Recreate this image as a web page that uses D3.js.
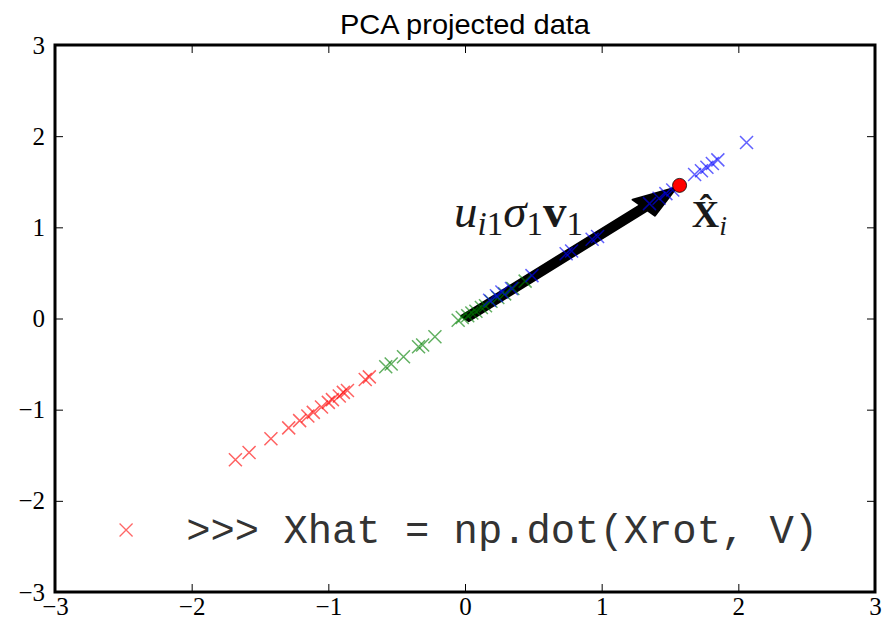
<!DOCTYPE html>
<html>
<head>
<meta charset="utf-8">
<script src="https://cdn.jsdelivr.net/npm/d3@7"></script>
<style>
  body { margin: 0; background: #fff; }
</style>
</head>
<body>
<div id="chart"></div>
<script>
// projected points, one list per colour group
const redX = [-1.68, -1.58, -1.42, -1.29, -1.21, -1.15, -1.11, -1.05, -1.00, -0.97, -0.92, -0.89, -0.86, -0.73, -0.70];
const redY = [-1.55, -1.47, -1.32, -1.20, -1.12, -1.07, -1.03, -0.97, -0.92, -0.89, -0.85, -0.81, -0.79, -0.67, -0.64];

const greenX = [-0.58, -0.54, -0.45, -0.34, -0.31, -0.22, -0.05, -0.02, 0.02, 0.05, 0.08, 0.12, 0.15, 0.19, 0.24, 0.29, 0.35, 0.44];
const greenY = [-0.53, -0.50, -0.42, -0.31, -0.29, -0.20, -0.02, 0.01, 0.03, 0.06, 0.08, 0.12, 0.14, 0.19, 0.23, 0.27, 0.33, 0.41];

const blueX = [0.18, 0.23, 0.27, 0.34, 0.49, 0.74, 0.78, 0.93, 0.97, 1.35, 1.42, 1.47, 1.52, 1.68, 1.73, 1.77, 1.81, 1.85, 2.06];
const blueY = [0.20, 0.25, 0.29, 0.33, 0.47, 0.71, 0.74, 0.87, 0.90, 1.26, 1.32, 1.37, 1.41, 1.58, 1.62, 1.66, 1.70, 1.74, 1.93];

// the highlighted reconstructed point and the arrow to it
const pointHat = [1.57, 1.46];
const arrowEnd = [1.55, 1.44];
const arrowWidth = 0.08, headWidth = 0.24, headLength = 0.33;

const xTicks = [-3, -2, -1, 0, 1, 2, 3];
const yTicks = [-3, -2, -1, 0, 1, 2, 3];

const title = 'PCA projected data';
const legendText = '>>> Xhat = np.dot(Xrot, V)';

class ProjectionPlot {
    constructor() {
        this.margin = { top: 45, right: 19, bottom: 27, left: 55 };
        this.width = 894 - this.margin.left - this.margin.right;
        this.height = 619 - this.margin.top - this.margin.bottom;
    }

    drawPlot() {
        let svg = d3.select('#chart')
            .append('svg')
            .attr('width', 894)
            .attr('height', 619);

        svg.append('text')
            .attr('x', this.margin.left + this.width / 2)
            .attr('y', 34)
            .attr('text-anchor', 'middle')
            .attr('font-family', '"Liberation Sans Narrow", "Liberation Sans", sans-serif')
            .attr('font-size', 28)
            .attr('textLength', 250)
            .attr('lengthAdjust', 'spacingAndGlyphs')
            .text(title);

        let g = svg.append('g')
            .attr('transform', `translate(${this.margin.left},${this.margin.top})`);

        let x = d3.scaleLinear().domain([-3, 3]).range([0, this.width]);
        let y = d3.scaleLinear().domain([-3, 3]).range([this.height, 0]);

        let tickFont = '"Liberation Serif", "DejaVu Serif", serif';

        // inward ticks on all four sides
        let bottom = g.append('g')
            .attr('transform', `translate(0,${this.height})`)
            .call(d3.axisBottom(x).tickValues(xTicks).tickSize(-8).tickPadding(5).tickFormat(d3.format('d')));
        let left = g.append('g')
            .call(d3.axisLeft(y).tickValues(yTicks).tickSize(-8).tickPadding(10).tickFormat(d3.format('d')));
        let top = g.append('g')
            .call(d3.axisTop(x).tickValues(xTicks).tickSize(-8).tickFormat(''));
        let right = g.append('g')
            .attr('transform', `translate(${this.width},0)`)
            .call(d3.axisRight(y).tickValues(yTicks).tickSize(-8).tickFormat(''));

        [bottom, left, top, right].forEach(a => {
            a.select('.domain').remove();
            a.selectAll('line').attr('stroke', '#000').attr('stroke-width', 1);
            a.selectAll('text')
                .attr('font-family', tickFont)
                .style('font-size', '25px')
                .attr('fill', '#000');
        });

        // arrow u_i1 sigma_1 v_1, shaped in data space like a matplotlib FancyArrow
        let len = Math.hypot(arrowEnd[0], arrowEnd[1]);
        let ux = arrowEnd[0] / len, uy = arrowEnd[1] / len;
        let px = -uy, py = ux;
        let sl = len - headLength;
        let pts = [
            [px * arrowWidth / 2, py * arrowWidth / 2],
            [ux * sl + px * arrowWidth / 2, uy * sl + py * arrowWidth / 2],
            [ux * sl + px * headWidth / 2, uy * sl + py * headWidth / 2],
            [arrowEnd[0], arrowEnd[1]],
            [ux * sl - px * headWidth / 2, uy * sl - py * headWidth / 2],
            [ux * sl - px * arrowWidth / 2, uy * sl - py * arrowWidth / 2],
            [-px * arrowWidth / 2, -py * arrowWidth / 2]
        ];
        g.append('path')
            .attr('d', d3.line().x(d => x(d[0])).y(d => y(d[1]))(pts) + 'Z')
            .attr('fill', '#000')
            .attr('stroke', '#000')
            .attr('stroke-width', 2)
            .attr('stroke-linejoin', 'round');

        let cross = 'M-6.5,-6.5L6.5,6.5M-6.5,6.5L6.5,-6.5';
        let groups = [
            { xs: redX, ys: redY, color: '#ff0000' },
            { xs: greenX, ys: greenY, color: '#007f00' },
            { xs: blueX, ys: blueY, color: '#0000ff' }
        ];
        groups.forEach(s => {
            g.append('g')
                .selectAll('path')
                .data(d3.zip(s.xs, s.ys))
                .join('path')
                .attr('transform', d => `translate(${x(d[0])},${y(d[1])})`)
                .attr('d', cross)
                .attr('fill', 'none')
                .attr('stroke', s.color)
                .attr('stroke-width', 1.5)
                .attr('stroke-opacity', 0.62);
        });

        g.append('circle')
            .attr('cx', x(pointHat[0]))
            .attr('cy', y(pointHat[1]))
            .attr('r', 7)
            .attr('fill', '#ff0000')
            .attr('stroke', '#000')
            .attr('stroke-width', 0.8);

        // math labels
        let mathFont = '"Liberation Serif", "DejaVu Serif", serif';
        let lab = g.append('text')
            .attr('x', x(-0.08))
            .attr('y', y(1.0))
            .attr('font-family', mathFont)
            .attr('font-size', 47)
            .attr('fill', '#1a1a1a');
        lab.append('tspan').attr('font-style', 'italic').text('u');
        lab.append('tspan').attr('font-style', 'italic').attr('font-size', 33).attr('dy', 8).text('i');
        lab.append('tspan').attr('font-size', 33).text('1');
        lab.append('tspan').attr('font-style', 'italic').attr('dy', -8).text('σ');
        lab.append('tspan').attr('font-size', 33).attr('dy', 8).text('1');
        lab.append('tspan').attr('font-weight', 'bold').attr('dy', -8).text('v');
        lab.append('tspan').attr('font-size', 33).attr('dy', 8).text('1');

        let xhat = g.append('text')
            .attr('x', x(1.66))
            .attr('y', y(1.0))
            .attr('font-family', mathFont)
            .attr('font-size', 38)
            .attr('fill', '#1a1a1a');
        xhat.append('tspan').attr('font-weight', 'bold').text('X\u0302');
        xhat.append('tspan').attr('font-style', 'italic').attr('font-size', 28).attr('dy', 8).text('i');

        // legend line in the bottom left
        let legY = y(-2.32);
        g.append('path')
            .attr('transform', `translate(${x(-2.48)},${legY})`)
            .attr('d', cross)
            .attr('fill', 'none')
            .attr('stroke', '#ff0000')
            .attr('stroke-width', 1.3)
            .attr('stroke-opacity', 0.6);
        g.append('text')
            .attr('x', x(-2.04))
            .attr('y', legY + 13)
            .attr('font-family', '"Liberation Mono", "DejaVu Sans Mono", monospace')
            .attr('font-size', 40)
            .attr('textLength', 632)
            .attr('lengthAdjust', 'spacingAndGlyphs')
            .attr('fill', '#333')
            .text(legendText);

        // frame
        g.append('rect')
            .attr('width', this.width)
            .attr('height', this.height)
            .attr('fill', 'none')
            .attr('stroke', '#000')
            .attr('stroke-width', 3);
    }
}

let plot = new ProjectionPlot();
plot.drawPlot();
</script>
</body>
</html>
